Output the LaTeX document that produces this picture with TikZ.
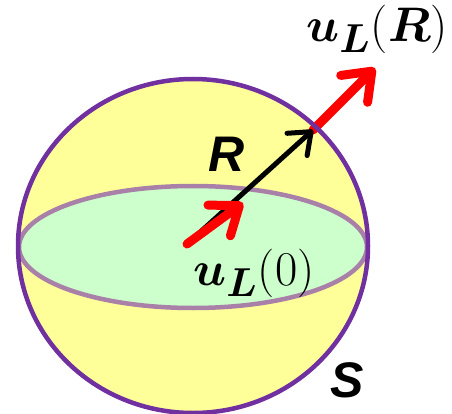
\RequirePackage{fix-cm}
\documentclass[tikz,border=0pt]{standalone}
\usepackage{fontspec}
\usepackage{bm}
\usetikzlibrary{arrows.meta}
\newfontfamily\arialish{Liberation Sans}
\definecolor{sphfill}{RGB}{255,255,153}
\definecolor{eqfill}{RGB}{204,255,204}
\definecolor{sphline}{RGB}{112,48,160}
\definecolor{eqline}{RGB}{168,128,168}
\newcommand{\biggmath}[1]{\scalebox{1.95}{\fontsize{24.88}{30}\selectfont #1}}
\tikzset{
  redarrow/.style={draw=red, line width=9pt, line cap=round,
    -{Straight Barb[length=25pt,width=38pt,round]}},
  blackarrow/.style={draw=black, line width=5pt, line cap=round,
    -{Straight Barb[length=19pt,width=30pt,round]}},
  biglabel/.style={font=\arialish\bfseries\itshape\fontsize{50}{54}\selectfont, inner sep=0pt},
  mathlabel/.style={inner sep=0pt}
}
\begin{document}
\begin{tikzpicture}[x=1pt,y=-1pt]
\useasboundingbox (0,0) rectangle (452,414);
% sphere
\fill[sphfill] (193,246) ellipse [x radius=175, y radius=167];
% equator
\filldraw[fill=eqfill, draw=eqline, line width=4.5pt] (193,247) ellipse [x radius=174, y radius=61];
% coordinates
\coordinate (O) at (187,244);
\coordinate (P) at (313,130);
\coordinate (T1) at (243,203);
\coordinate (T2) at (375,68);
% red arrow leaving the sphere
\draw[redarrow] (P) -- (T2);
% sphere outline
\draw[sphline, line width=4.5pt] (193,246) ellipse [x radius=175, y radius=167];
% black radius arrow
\draw[blackarrow] (O) -- (P);
% red arrow at centre
\draw[redarrow] (O) -- (T1);
% labels
\node[biglabel] (Rlab) at (227,154) {R};
\node[biglabel] (Slab) at (347,380) {S};
\node[mathlabel] (uR) at (377,29) {\biggmath{$\bm{u}_{\bm{L}}(\bm{R})$}};
\node[mathlabel] (u0) at (254,273) {\biggmath{$\bm{u}_{\bm{L}}(0)$}};
\end{tikzpicture}
\end{document}
